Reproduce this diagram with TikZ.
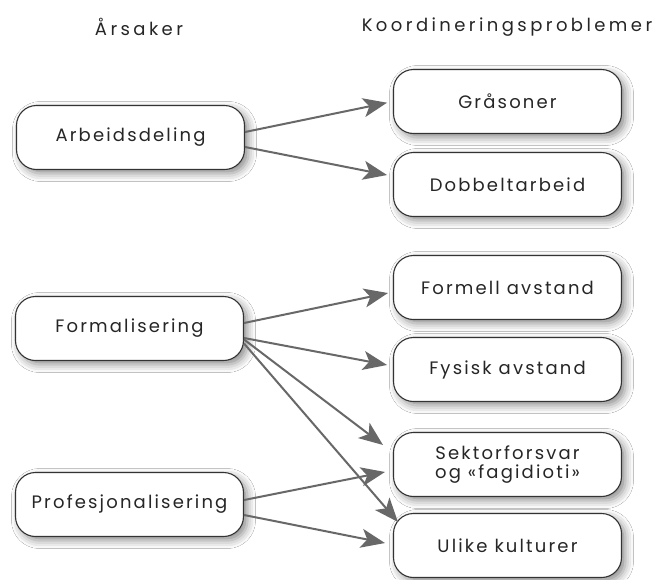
\documentclass[tikz,border=0pt]{standalone}
\usepackage{fontspec}
\setmainfont{Poppins}
\newfontfamily\boxfont[LetterSpace=12]{Poppins}
\newfontfamily\titlefont[LetterSpace=19]{Poppins}
\usetikzlibrary{arrows.meta,shadows.blur}
\definecolor{boxline}{HTML}{333333}
\definecolor{arrowgray}{HTML}{686868}
\definecolor{txt}{HTML}{262626}
\begin{document}
\begin{tikzpicture}[x=1pt,y=-1pt,
  box/.style={draw=boxline, line width=1.1pt, rounded corners=20pt,
    minimum width=228pt, minimum height=64pt, fill=white, align=center,
    text=txt, font=\boxfont\fontsize{18}{20}\selectfont, inner sep=0pt,
    blur shadow={shadow xshift=4pt, shadow yshift=-4pt, shadow blur radius=8pt, shadow opacity=45}},
  title/.style={text=txt, font=\titlefont\fontsize{18}{20}\selectfont, inner sep=0pt},
  conn/.style={draw=arrowgray, line width=2pt,
    -{Stealth[length=24pt,width=19pt,inset=6pt]}, shorten >=6pt}]
\useasboundingbox (0,0) rectangle (659,579);
\fill[white] (0,0) rectangle (659,579);

\node[title] (t1) at (139,27) {Årsaker};
\node[title] (t2) at (507,27) {Koordineringsproblemer};

\node[box] (arb) at (130.5,137.5) {Arbeidsdeling};
\node[box] (form) at (129.5,328.5) {Formalisering};
\node[box] (prof) at (129.5,504.5) {Profesjonalisering};

\node[box] (gra) at (507.5,101.5) {Gråsoner};
\node[box] (dob) at (507.5,184.5) {Dobbeltarbeid};
\node[box] (formell) at (507.5,287.5) {Formell avstand};
\node[box] (fys) at (507.5,369.5) {Fysisk avstand};
\node[box, font=\boxfont\fontsize{18}{19}\selectfont] (sek) at (507.5,464.5) {Sektorforsvar\\og «fagidioti»};
\node[box] (uli) at (507.5,545.5) {Ulike kulturer};

\draw[conn] ([yshift=5.5pt]arb.east) -- (gra.west);
\draw[conn] ([yshift=-9.5pt]arb.east) -- ([yshift=8.3pt]dob.west);

\draw[conn] ([yshift=5.5pt]form.east) -- ([xshift=0.9pt,yshift=-4.3pt]formell.west);
\draw[conn] ([yshift=-9.5pt]form.east) -- ([yshift=3.4pt]fys.west);
\draw[conn] ([yshift=-11pt]form.east) -- ([xshift=-5.2pt,yshift=15.9pt]sek.west);
\draw[conn] ([yshift=-15pt]form.east) -- ([xshift=8.9pt,yshift=19pt]uli.west);

\draw[conn] ([yshift=4.5pt]prof.east) -- ([xshift=-2.1pt,yshift=-6.3pt]sek.west);
\draw[conn] ([yshift=-10.5pt]prof.east) -- ([xshift=-2.1pt,yshift=1.3pt]uli.west);
\end{tikzpicture}
\end{document}
